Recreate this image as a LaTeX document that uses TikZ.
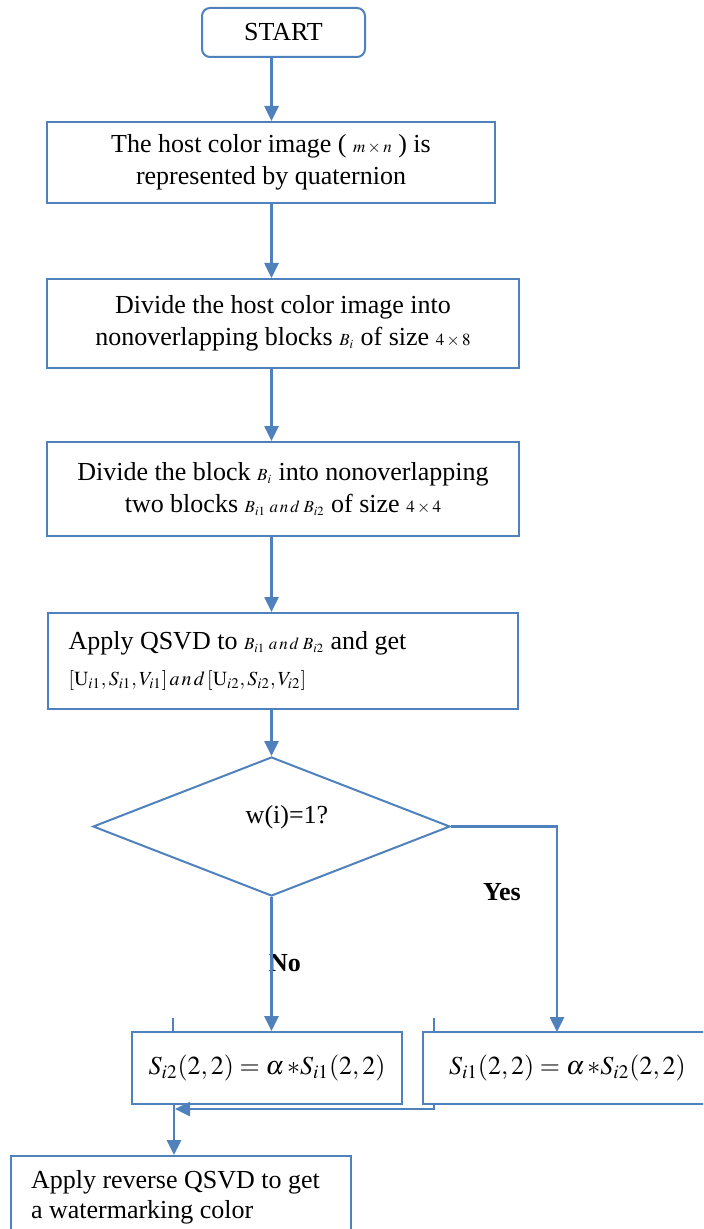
\documentclass[tikz,border=0pt]{standalone}
\usepackage{mathptmx}
\usepackage{fontspec}
\setmainfont{Liberation Serif}
\usepackage{xcolor}
\usepackage{amsmath}
\usepackage{tikz}
\usetikzlibrary{calc}
\usetikzlibrary{arrows.meta}
\usetikzlibrary{shapes.geometric}
\usetikzlibrary{positioning}
\definecolor{flowblue}{HTML}{4F81BD}
\newcommand{\smath}[1]{{\fontsize{8.5}{10}\selectfont$#1$}}
\newcommand{\mmath}[1]{{\fontsize{10}{12}\selectfont$#1$}}
\tikzset{>={Triangle[length=7.5pt,width=7pt]}}
\tikzstyle{box} = [rectangle, draw=flowblue, line width=1pt, align=center, font=\fontsize{13}{16}\selectfont]
\tikzstyle{arr} = [->, draw=flowblue, line width=1.3pt]
\tikzstyle{lbl} = [draw=none, font=\fontsize{13}{16}\selectfont\bfseries]

\begin{document}
\begin{tikzpicture}[x=0.5pt, y=-0.5pt]
\useasboundingbox (0,0) rectangle (703,1229);
\clip (0,0) rectangle (703,1229);
%node [draw=none] at (0,0) {\bf flow};
\node [box, rounded corners=4pt, minimum width=81.5pt, minimum height=24.5pt] (start) at (283.5, 32.5) {START};
\node [box, minimum width=224pt, minimum height=40.5pt] (host) at (271, 162.5) {The host color image ( \smath{m\times n} ) is\\ represented by quaternion};
\node [box, minimum width=236pt, minimum height=44.5pt] (split) at (283, 323.5) {Divide the host color image into\\ nonoverlapping blocks \smath{B_i} of size \smath{4\times 8}};
\node [box, minimum width=236pt, minimum height=47pt] (pair) at (283, 489) {Divide the block \smath{B_i} into nonoverlapping\\ two blocks \smath{B_{i1}\;a\,n\,d\;B_{i2}} of size \smath{4\times 4}};
\node [box, align=flush left, text width=214pt, inner xsep=10.5pt, minimum height=48pt] (qsvd) at (282.5, 661) {Apply QSVD to \smath{B_{i1}\;a\,n\,d\;B_{i2}} and get\\[2pt] \mmath{[\mathrm{U}_{i1},S_{i1},V_{i1}]\,a\,n\,d\,[\mathrm{U}_{i2},S_{i2},V_{i2}]}};
\node [box, diamond, inner sep=0, minimum width=178.5pt, minimum height=69.5pt] (test) at (271.5, 826.5) {};
\node [draw=none, font=\fontsize{13}{16}\selectfont] (testtxt) at (287, 817) {w(i)=1?};
\node [box, minimum width=135pt, minimum height=36pt] (embA) at (267, 1068) {$S_{i2}(2,2)=\alpha\,{*}S_{i1}(2,2)$};
\node [box, anchor=west, inner xsep=13pt, minimum height=36pt] (embB) at (422, 1068) {$S_{i1}(2,2)=\alpha\,{*}S_{i2}(2,2)$};
\node [box, anchor=north west, align=flush left, text width=150pt, inner xsep=10pt, inner ysep=7pt, text depth=30pt, font=\fontsize{13}{15}\selectfont] (rev) at (10, 1155) {Apply reverse QSVD to get\\ a watermarking color};
\node [lbl] (yes) at (502, 892) {Yes};
\node [lbl] (no) at (285, 963) {No};
\coordinate (ydrop) at (557, 1032);
\coordinate (tickA) at (173, 1018);
\coordinate (tickB) at (434, 1018);
\coordinate (mergeA) at (434, 1109);
\coordinate (mergeB) at (175, 1109);
\coordinate (down) at (174, 1104);
\draw [arr] (start.south -| test) to (host.north -| test);
\draw [arr] (host.south -| test) to (split.north -| test);
\draw [arr] (split.south -| test) to (pair.north -| test);
\draw [arr] (pair.south -| test) to (qsvd.north -| test);
\draw [arr] (qsvd.south -| test) to (test.north);
\draw [arr] (test.east) -| (ydrop);
\draw [arr] (test.south) to (test.south |- embA.north);
\draw [draw=flowblue, line width=1pt] (tickA) -- (tickA |- embA.north);
\draw [draw=flowblue, line width=1pt] (tickB) -- (tickB |- embB.north);
\draw [arr] (embB.south -| mergeA) -- (mergeA) -- (mergeB);
\draw [arr] (embA.south -| down) to (rev.north -| down);
\end{tikzpicture}
\end{document}
